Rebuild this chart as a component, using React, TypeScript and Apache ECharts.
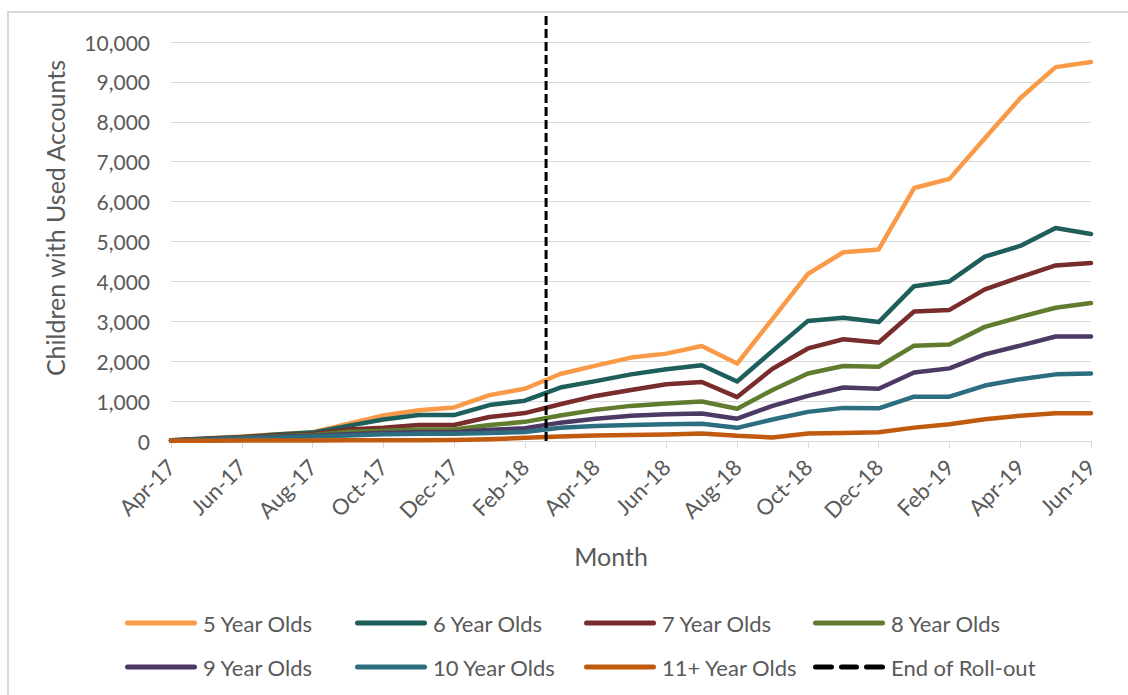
import React, { useEffect, useRef } from "react";
import * as echarts from "echarts";

const months = [
  "Apr-17", "May-17", "Jun-17", "Jul-17", "Aug-17", "Sep-17", "Oct-17", "Nov-17", "Dec-17",
  "Jan-18", "Feb-18", "Mar-18", "Apr-18", "May-18", "Jun-18", "Jul-18", "Aug-18", "Sep-18",
  "Oct-18", "Nov-18", "Dec-18", "Jan-19", "Feb-19", "Mar-19", "Apr-19", "May-19", "Jun-19",
];

const fiveYearOlds = [20, 60, 110, 170, 220, 430, 640, 770, 840, 1150, 1310, 1680, 1890, 2090, 2190, 2380, 1940, 3060, 4190, 4730, 4800, 6340, 6570, 7590, 8590, 9370, 9500];
const sixYearOlds = [20, 60, 100, 160, 210, 380, 540, 650, 650, 900, 1010, 1340, 1500, 1670, 1800, 1900, 1490, 2260, 3010, 3090, 2980, 3880, 4000, 4620, 4890, 5340, 5190];
const sevenYearOlds = [15, 50, 90, 140, 170, 290, 330, 400, 400, 600, 700, 920, 1130, 1280, 1420, 1480, 1100, 1810, 2320, 2550, 2470, 3245, 3285, 3800, 4110, 4400, 4460];
const eightYearOlds = [10, 40, 80, 120, 150, 230, 260, 290, 290, 400, 480, 640, 780, 880, 940, 990, 810, 1280, 1690, 1880, 1860, 2390, 2420, 2860, 3110, 3340, 3460];
const nineYearOlds = [10, 35, 70, 105, 130, 170, 200, 220, 220, 280, 320, 460, 560, 630, 670, 690, 560, 880, 1130, 1340, 1310, 1715, 1820, 2170, 2390, 2620, 2620];
const tenYearOlds = [10, 30, 60, 90, 110, 140, 170, 180, 180, 200, 225, 330, 375, 400, 420, 435, 330, 540, 730, 830, 820, 1110, 1110, 1390, 1550, 1670, 1690];
const elevenPlusYearOlds = [5, 8, 10, 12, 15, 18, 20, 20, 25, 45, 80, 110, 140, 150, 165, 190, 130, 90, 190, 200, 220, 335, 420, 545, 635, 695, 695];

// End of roll-out sits between Feb-18 and Mar-18 (month index position)
const rollOutPosition = 10.6;
const rollOutSpan = [0, 10750];

const seriesNames = [
  "5 Year Olds", "6 Year Olds", "7 Year Olds", "8 Year Olds",
  "9 Year Olds", "10 Year Olds", "11+ Year Olds", "End of Roll-out",
];
const seriesValues = [fiveYearOlds, sixYearOlds, sevenYearOlds, eightYearOlds, nineYearOlds, tenYearOlds, elevenPlusYearOlds];
const seriesColors = ["#F99A49", "#1E5E5B", "#782C2B", "#5F7C2F", "#4C3A64", "#2C6E80", "#C05A0E"];

const FONT = "Lato, 'Open Sans', sans-serif";
const TEXT_COLOR = "#595959";

export default function App() {
  const ref = useRef<HTMLDivElement>(null);

  useEffect(() => {
    if (!ref.current) return;
    const chart = echarts.init(ref.current, undefined, { renderer: "svg" });

    const lineSeries = seriesValues.map((vals, si) => ({
      name: seriesNames[si],
      type: "line",
      data: vals.map((v, i) => [i, v]),
      symbol: "none",
      lineStyle: { color: seriesColors[si], width: 4.5, cap: "round", join: "round" },
      itemStyle: { color: seriesColors[si] },
      z: 2 + si,
    }));

    const rollOut = {
      name: seriesNames[7],
      type: "line",
      data: rollOutSpan.map((v) => [rollOutPosition, v]),
      symbol: "none",
      clip: false,
      lineStyle: { color: "#000000", width: 3, type: [9, 4] },
      itemStyle: { color: "#000000" },
      z: 20,
    };

    const solidIcon = "path://M2.5,0 L69.5,0 A2.5,2.5 0 0 1 69.5,5 L2.5,5 A2.5,2.5 0 0 1 2.5,0 Z";
    const dashIcon =
      "path://M2.5,0 L18.5,0 A2.5,2.5 0 0 1 18.5,5 L2.5,5 A2.5,2.5 0 0 1 2.5,0 Z " +
      "M28.5,0 L43.5,0 A2.5,2.5 0 0 1 43.5,5 L28.5,5 A2.5,2.5 0 0 1 28.5,0 Z " +
      "M53.5,0 L69.5,0 A2.5,2.5 0 0 1 69.5,5 L53.5,5 A2.5,2.5 0 0 1 53.5,0 Z";

    const legendLefts = [125, 355, 584, 813];
    const legendTops = [612, 656];
    const legends = seriesNames.map((name, i) => ({
      show: true,
      left: legendLefts[i % 4],
      top: legendTops[Math.floor(i / 4)],
      padding: 0,
      itemWidth: 72,
      itemHeight: 5,
      itemGap: 0,
      selectedMode: false,
      data: [{ name, icon: i === 7 ? dashIcon : solidIcon }],
      textStyle: { fontFamily: FONT, fontSize: 22, color: TEXT_COLOR, padding: [0, 0, 0, 1] },
    }));

    chart.setOption({
      animation: false,
      backgroundColor: "#ffffff",
      textStyle: { fontFamily: FONT },
      grid: { left: 171, right: 37, top: 42, bottom: 254, containLabel: false },
      xAxis: {
        type: "value",
        min: 0,
        max: 26,
        interval: 2,
        axisLine: { show: true, lineStyle: { color: "#d9d9d9", width: 1 } },
        axisTick: { show: true, length: 7, lineStyle: { color: "#d9d9d9" } },
        splitLine: { show: false },
        axisLabel: {
          rotate: 45,
          margin: 22,
          fontFamily: FONT,
          fontSize: 22,
          color: TEXT_COLOR,
          formatter: (v: number) => months[Math.round(v)] ?? "",
        },
      },
      yAxis: {
        type: "value",
        min: 0,
        max: 10000,
        interval: 1000,
        axisLine: { show: false },
        axisTick: { show: false },
        splitLine: { lineStyle: { color: "#d9d9d9", width: 1 } },
        axisLabel: {
          margin: 21,
          fontFamily: FONT,
          fontSize: 21,
          color: TEXT_COLOR,
          formatter: (v: number) => v.toLocaleString("en-US"),
        },
      },
      legend: legends,
      graphic: [
        {
          type: "rect",
          shape: { x: 8, y: 12, width: 1140, height: 720 },
          style: { fill: "none", stroke: "#d9d9d9", lineWidth: 2 },
          silent: true,
          z: -1,
        },
        {
          type: "text",
          x: 611,
          y: 556,
          style: {
            text: "Month",
            fontFamily: FONT,
            fontSize: 25,
            fill: TEXT_COLOR,
            textAlign: "center",
            textVerticalAlign: "middle",
          },
        },
        {
          type: "text",
          x: 55,
          y: 218,
          rotation: Math.PI / 2,
          style: {
            text: "Children with Used Accounts",
            fontFamily: FONT,
            fontSize: 25,
            fill: TEXT_COLOR,
            textAlign: "center",
            textVerticalAlign: "middle",
          },
        },
      ],
      series: [...lineSeries, rollOut],
    });

    return () => chart.dispose();
  }, []);

  return (
    <div
      ref={ref}
      style={{ position: "fixed", left: 0, top: 0, width: 1128, height: 695, background: "#fff" }}
    />
  );
}
